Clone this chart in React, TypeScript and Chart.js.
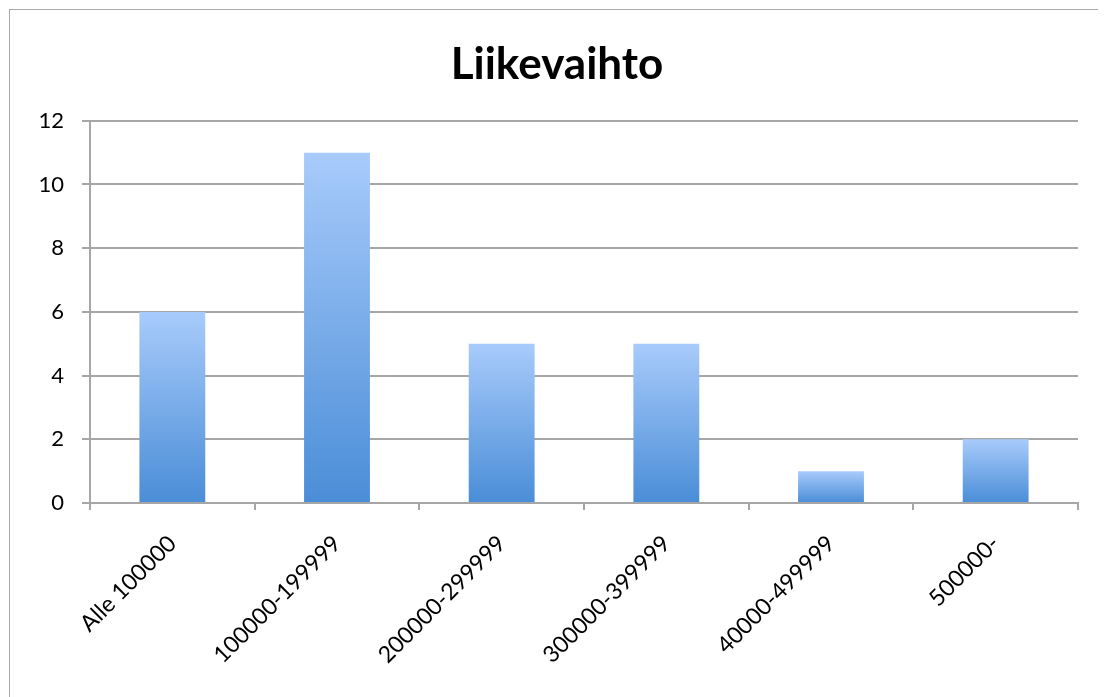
import React, { useEffect, useRef } from "react";
import { Chart, registerables } from "chart.js";

Chart.register(...registerables);

const title = "Liikevaihto";
const categories = ["Alle 100000", "100000-199999", "200000-299999", "300000-399999", "40000-499999", "500000-"];
const values = [6, 11, 5, 5, 1, 2];
const yTicks = [0, 2, 4, 6, 8, 10, 12];

const FONT = "Lato, 'Open Sans', sans-serif";
const TOP_COLOR = "#a8cbfb";
const BOTTOM_COLOR = "#4a8dd7";

export default function App() {
  const canvasRef = useRef<HTMLCanvasElement | null>(null);

  useEffect(() => {
    const canvas = canvasRef.current;
    if (!canvas) return;
    const chart = new Chart(canvas, {
      type: "bar",
      data: {
        labels: categories,
        datasets: [
          {
            data: values,
            barPercentage: 0.4,
            categoryPercentage: 1,
            borderWidth: 0,
            backgroundColor: (ctx: any) => {
              const c = ctx.chart;
              const ys = c.scales?.y;
              if (!ys || ctx.type !== "data") return BOTTOM_COLOR;
              const v = ctx.parsed?.y ?? 0;
              const top = ys.getPixelForValue(v);
              const bottom = ys.getPixelForValue(0);
              if (!isFinite(top) || !isFinite(bottom) || top === bottom) return BOTTOM_COLOR;
              const g = c.ctx.createLinearGradient(0, top, 0, bottom);
              g.addColorStop(0, TOP_COLOR);
              g.addColorStop(1, BOTTOM_COLOR);
              return g;
            },
          },
        ],
      },
      options: {
        animation: false,
        responsive: false,
        maintainAspectRatio: false,
        layout: { padding: { left: 26, right: 26, top: 0, bottom: 0 } },
        plugins: {
          legend: { display: false },
          tooltip: { enabled: false },
          title: {
            display: true,
            text: title,
            color: "#000",
            font: { family: FONT, size: 44, weight: "bold" },
            padding: { top: 28, bottom: 30 },
          },
        },
        scales: {
          x: {
            grid: {
              display: true,
              drawOnChartArea: false,
              drawTicks: true,
              tickLength: 7,
              color: "#a6a6a6",
              lineWidth: 2,
              offset: true,
            },
            border: { display: true, color: "#a6a6a6", width: 2 },
            ticks: {
              color: "#000",
              font: { family: FONT, size: 23 },
              maxRotation: 45,
              minRotation: 45,
              autoSkip: false,
              padding: 20,
            },
            afterFit: (scale: any) => {
              scale.height = 687 - 493;
            },
          },
          y: {
            min: 0,
            max: 12,
            afterBuildTicks: (scale: any) => {
              scale.ticks = yTicks.map((v) => ({ value: v }));
            },
            grid: {
              color: "#a6a6a6",
              lineWidth: 2,
              drawTicks: true,
              tickLength: 8,
            },
            border: { display: true, color: "#a6a6a6", width: 2 },
            ticks: {
              color: "#000",
              font: { family: FONT, size: 22 },
              padding: 18,
            },
            afterFit: (scale: any) => {
              scale.width = 54;
            },
          },
        },
      },
    });
    return () => chart.destroy();
  }, []);

  return (
    <div
      style={{
        marginLeft: 1,
        marginTop: 1,
        width: 1096,
        height: 720,
        border: "1px solid #a8a8a8",
        boxSizing: "border-box",
        background: "#fff",
      }}
    >
      <canvas ref={canvasRef} width={1094} height={687} style={{ display: "block" }} />
    </div>
  );
}
